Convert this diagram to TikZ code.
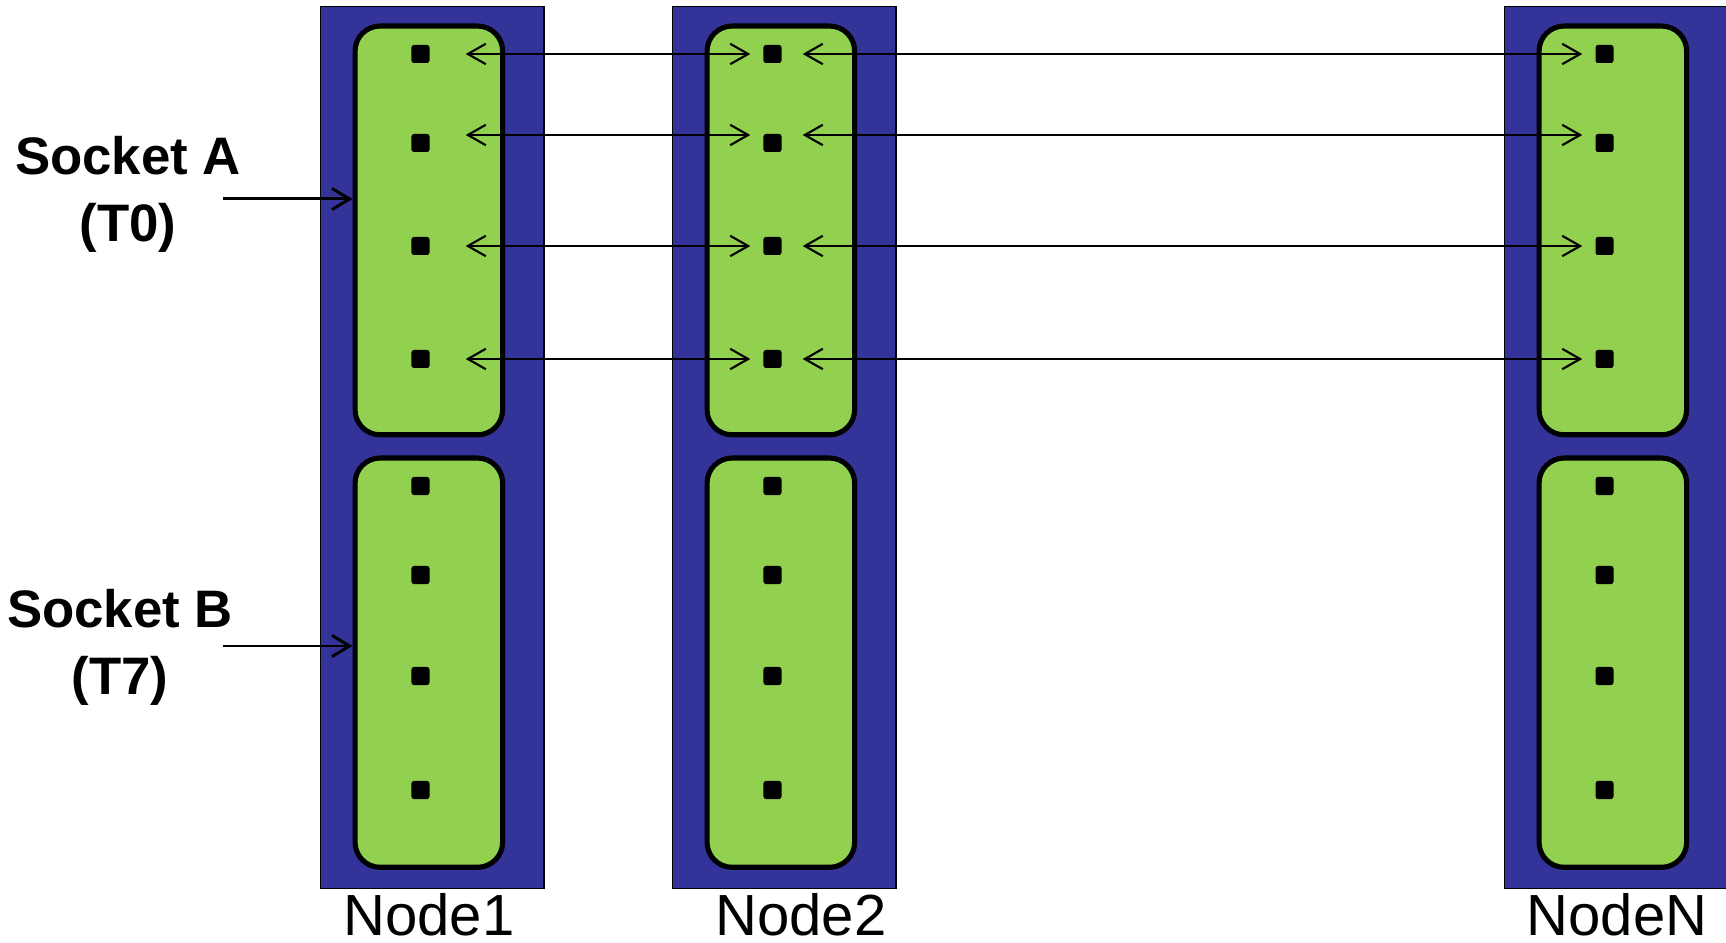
\documentclass[tikz,border=0pt]{standalone}
\usepackage{fontspec}
\setmainfont{Liberation Sans}
\usetikzlibrary{arrows.meta}

\definecolor{nodeblue}{HTML}{333399}
\definecolor{sockgreen}{HTML}{92D050}

\tikzset{
  nodebox/.style={draw=black, line width=0.4pt, fill=nodeblue, minimum width=2.23cm,
    minimum height=8.81cm, inner sep=0pt, anchor=north west},
  sockbox/.style={draw=black, line width=1.45pt, fill=sockgreen, rounded corners=0.25cm,
    minimum width=1.475cm, inner sep=0pt, anchor=north west},
  core/.style={fill=black, rounded corners=0.7pt, minimum size=0.18cm, inner sep=0pt},
  link/.style={line width=0.6pt,
    {Straight Barb[length=5.1pt,width=5.8pt]}-{Straight Barb[length=5.1pt,width=5.8pt]}},
  pointer/.style={line width=0.85pt, -{Straight Barb[length=5pt,width=6pt]}},
  sockname/.style={font=\fontsize{15}{19}\selectfont\bfseries, align=center},
  colname/.style={font=\fontsize{16.5}{18}\selectfont, anchor=base, inner sep=0pt}
}

\begin{document}
\begin{tikzpicture}[x=0.01cm,y=-0.01cm]
  \useasboundingbox (0,0) rectangle (1726,943);

  % one column per machine
  \foreach \c/\ox/\lx in {1/320/429, 2/672/801, N/1504/1617}{
    \node[nodebox] (blk\c) at (\ox,6) {};
    \node[sockbox, minimum height=4.085cm] (sock\c-a) at (\ox+32.5,23.5) {};
    \node[sockbox, minimum height=4.09cm] (sock\c-b) at (\ox+32.5,455.5) {};
    \foreach \y [count=\i] in {54,143,246,359,486,575,676,790}
      \node[core] (dot\c-\i) at (\ox+100.5,\y) {};
    \node[colname] (lbl\c) at (\lx,936) {Node\c};
  }

  % links between the first socket of each machine
  \foreach \i/\dy in {1/0, 2/0.08, 3/0, 4/0}{
    \draw[link, shorten <=0.355cm, shorten >=0.125cm]
      ([yshift=\dy cm]dot1-\i.east) -- ([yshift=\dy cm]dot2-\i.west);
    \draw[link, shorten <=0.205cm, shorten >=0.125cm]
      ([yshift=\dy cm]dot2-\i.east) -- ([yshift=\dy cm]dotN-\i.west);
  }

  % socket labels
  \node[sockname] (lblA) at (128,194) {Socket A\\(T0)};
  \node[sockname] (lblB) at (120,647) {Socket B\\(T7)};
  \coordinate (pA) at (223,199);
  \coordinate (pB) at (223,646);
  \draw[pointer] (pA) -- (pA -| sock1-a.west);
  \draw[pointer] (pB) -- (pB -| sock1-b.west);
\end{tikzpicture}
\end{document}
